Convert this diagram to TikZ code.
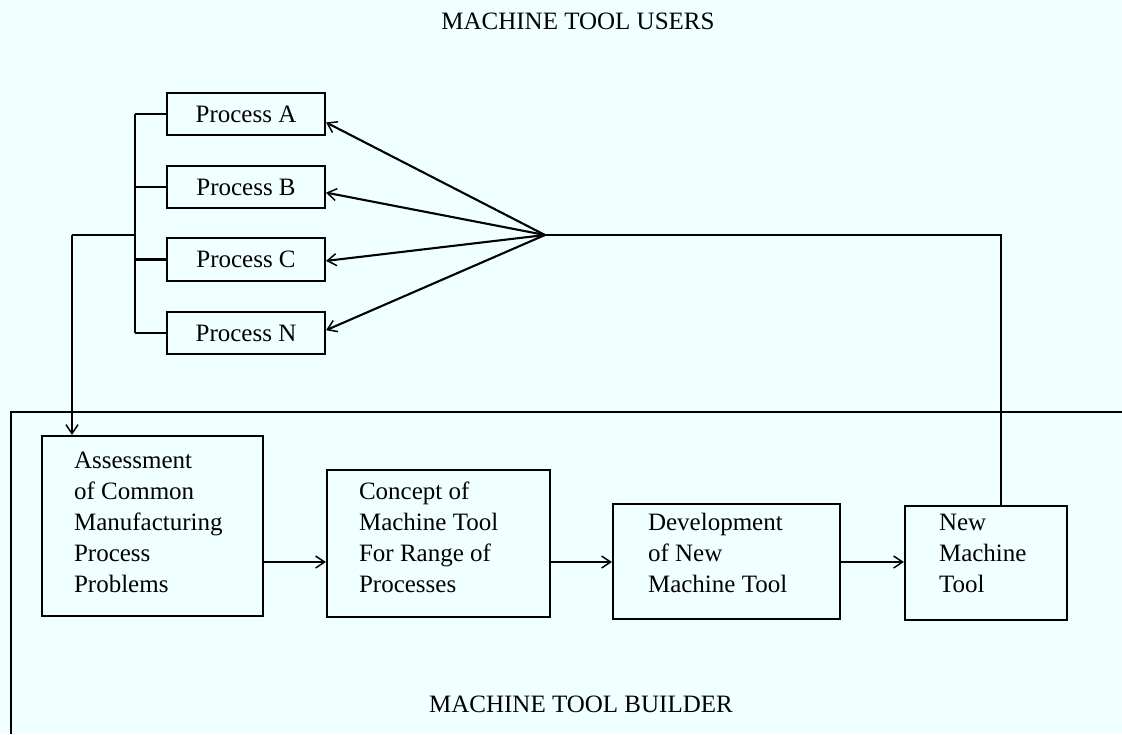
\documentclass[tikz,border=0pt]{standalone}
\usepackage{fontspec}
\setmainfont{Liberation Serif}
\usetikzlibrary{arrows.meta}
\definecolor{paper}{RGB}{240,255,255}
\begin{document}
\begin{tikzpicture}[x=1pt, y=-1pt, line width=2.1pt,
  box/.style={draw, rectangle, inner sep=0pt, font=\fontsize{25}{31}\selectfont},
  lbl/.style={font=\fontsize{25}{31}\selectfont, align=left, inner sep=0pt, anchor=base west},
  head/.style={font=\fontsize{25}{30}\selectfont, inner sep=0pt},
  arr/.style={-{Straight Barb[length=9pt,width=12pt,line width=1.5pt]}},
]
% page
\fill[paper] (0,0) rectangle (1122,734);
\useasboundingbox (0,0) rectangle (1122,734);

% headings
\node[head] (users) at (578,21) {MACHINE TOOL USERS};
\node[head] (builder) at (581,704) {MACHINE TOOL BUILDER};

% builder's domain
\draw (11,734) -- (11,412) -- (1122,412);

% user processes
\node[box, minimum width=158pt, minimum height=42pt] (pA) at (246,114) {Process A};
\node[box, minimum width=158pt, minimum height=42pt] (pB) at (246,187) {Process B};
\node[box, minimum width=158pt, minimum height=43pt] (pC) at (246,259.5) {Process C};
\node[box, minimum width=158pt, minimum height=42pt] (pN) at (246,333) {Process N};

% builder's steps
\node[box, minimum width=221pt, minimum height=180pt] (ass) at (152.5,526) {};
\node[box, minimum width=223pt, minimum height=147pt] (con) at (438.5,543.5) {};
\node[box, minimum width=227pt, minimum height=115pt] (dev) at (726.5,561.5) {};
\node[box, minimum width=162pt, minimum height=114pt] (new) at (986,563) {};

% step texts, placed by the baseline of their last line
\node[lbl] (assT) at (73,592) {Assessment\\of Common\\Manufacturing\\Process\\Problems};
\node[lbl] (conT) at (358,592) {Concept of\\Machine Tool\\For Range of\\Processes};
\node[lbl] (devT) at (647,592) {Development\\of New\\Machine Tool};
\node[lbl] (newT) at (938,592) {New\\Machine\\Tool};

% routing points
\coordinate (fan) at (545,235);
\coordinate (bus) at (135,235);
\coordinate (drop) at (72,235);
\coordinate (turn) at (1001,235);
\coordinate (flow) at (0,562);

% new machine tool goes back out to the users
\draw (new.north -| turn) -- (turn) -- (fan);
\draw[arr] (fan) -- (pA.-6.5);
\draw[arr] (fan) -- (pB.-4.3);
\draw[arr] (fan) -- (pC.-1.8);
\draw[arr] (fan) -- (pN.2.2);

% problems of all processes gathered for assessment
\draw (pA.west -| bus) -- (pN.west -| bus);
\foreach \p in {pA,pB,pC,pN} \draw (\p.west -| bus) -- (\p.west);
\draw (bus) -- (drop);
\draw[arr] (drop) -- (ass.north -| drop);

% development chain
\draw[arr] (ass.east |- flow) -- (con.west |- flow);
\draw[arr] (con.east |- flow) -- (dev.west |- flow);
\draw[arr] (dev.east |- flow) -- (new.west |- flow);
\end{tikzpicture}
\end{document}
